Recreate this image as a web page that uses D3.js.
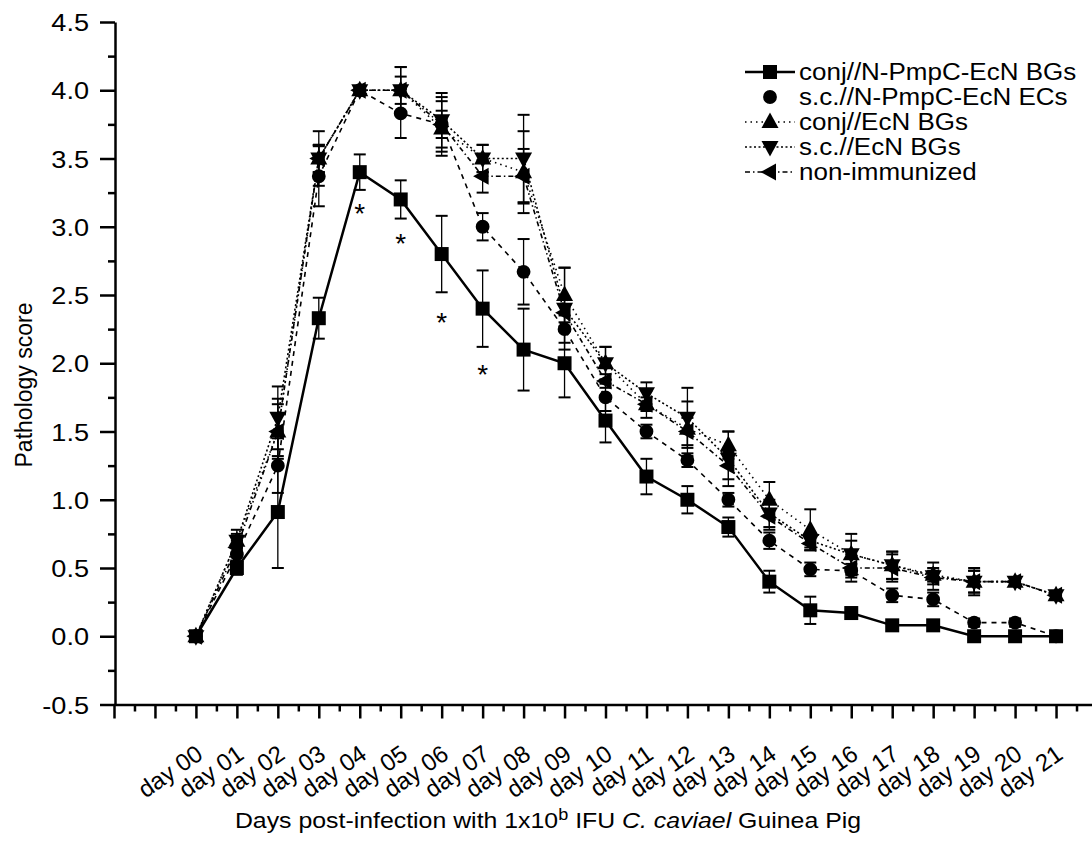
<!DOCTYPE html>
<html>
<head>
<meta charset="utf-8">
<script src="https://cdn.jsdelivr.net/npm/d3@7"></script>
<style>
  body { margin: 0; background: #fff; }
  svg { display: block; }
</style>
</head>
<body>
<svg id="chart" width="1092" height="847"></svg>
<script>
// days on the x axis
const days = d3.range(0, 22)
const dayLabels = days.map((d) => 'day ' + String(d).padStart(2, '0'))

// mean pathology score per group
const conjPmpcBGs = [0, 0.5, 0.91, 2.33, 3.4, 3.2, 2.8, 2.4, 2.1, 2.0, 1.58, 1.17, 1.0, 0.8, 0.4, 0.19, 0.17, 0.08, 0.08, 0, 0, 0]
const scPmpcECs = [0, 0.6, 1.25, 3.37, 4.0, 3.83, 3.75, 3.0, 2.67, 2.25, 1.75, 1.5, 1.29, 1.0, 0.7, 0.49, 0.48, 0.3, 0.27, 0.1, 0.1, 0]
const conjEcnBGs = [0, 0.7, 1.5, 3.5, 4.0, 4.0, 3.72, 3.5, 3.4, 2.5, 2.0, 1.7, 1.52, 1.4, 1.0, 0.78, 0.6, 0.52, 0.45, 0.4, 0.4, 0.3]
const scEcnBGs = [0, 0.7, 1.6, 3.5, 4.0, 4.0, 3.78, 3.5, 3.5, 2.4, 2.0, 1.78, 1.6, 1.3, 0.9, 0.7, 0.6, 0.52, 0.44, 0.4, 0.4, 0.3]
const nonImmunized = [0, 0.65, 1.5, 3.5, 4.0, 4.0, 3.75, 3.37, 3.37, 2.37, 1.87, 1.7, 1.5, 1.25, 0.88, 0.68, 0.5, 0.5, 0.43, 0.4, 0.4, 0.3]

// error (+/-) per point
const conjPmpcBGsErr = [0, 0.05, 0.41, 0.15, 0.13, 0.14, 0.28, 0.28, 0.3, 0.25, 0.16, 0.13, 0.1, 0.07, 0.08, 0.1, 0.04, 0.02, 0.02, 0, 0, 0]
const scPmpcECsErr = [0, 0.05, 0.2, 0.22, 0, 0.18, 0.1, 0.1, 0.24, 0.1, 0.1, 0.05, 0.05, 0.05, 0.06, 0.05, 0.05, 0.05, 0.05, 0.03, 0.03, 0]
const conjEcnBGsErr = [0, 0.05, 0.2, 0.1, 0, 0.17, 0.2, 0.1, 0.3, 0.2, 0.12, 0.1, 0.2, 0.1, 0.13, 0.15, 0.1, 0.1, 0.05, 0.08, 0, 0]
const scEcnBGsErr = [0, 0.08, 0.23, 0.1, 0, 0.17, 0.2, 0.1, 0.32, 0.3, 0.12, 0.08, 0.22, 0.2, 0.1, 0.05, 0.15, 0.1, 0.1, 0.08, 0, 0]
const nonImmunizedErr = [0, 0.05, 0.24, 0.2, 0, 0.1, 0.2, 0.12, 0.2, 0.1, 0.05, 0.05, 0.1, 0.1, 0.1, 0.05, 0.1, 0.1, 0.05, 0.1, 0, 0]

const seriesNames = ['conj//N-PmpC-EcN BGs', 's.c.//N-PmpC-EcN ECs', 'conj//EcN BGs', 's.c.//EcN BGs', 'non-immunized']

// significance marks (day, score position)
const sigDays = [4, 5, 6, 7]
const sigPos = [3.14, 2.92, 2.34, 1.96]

const yTicks = d3.range(-0.5, 4.51, 0.5)

const series = [
  { name: seriesNames[0], values: conjPmpcBGs, err: conjPmpcBGsErr, shape: 'square', dash: null, lw: 2.5, legendLine: true },
  { name: seriesNames[1], values: scPmpcECs, err: scPmpcECsErr, shape: 'circle', dash: '5,5', lw: 1.6, legendLine: false },
  { name: seriesNames[2], values: conjEcnBGs, err: conjEcnBGsErr, shape: 'up', dash: '1.5,4', lw: 1.6, legendLine: true },
  { name: seriesNames[3], values: scEcnBGs, err: scEcnBGsErr, shape: 'down', dash: '2,2.5', lw: 1.6, legendLine: true },
  { name: seriesNames[4], values: nonImmunized, err: nonImmunizedErr, shape: 'left', dash: '5,3,1.5,3', lw: 1.6, legendLine: true },
]

const width = 1092
const height = 847
const fontFamily = 'Arial, "Liberation Sans", sans-serif'
const stretch = 1.13 // glyphs in the figure are a bit wider than normal

const x = d3.scaleLinear().domain([-2, 22]).range([114, 1097])
const y = d3.scaleLinear().domain([-0.5, 4.5]).range([704.5, 22])

function marker(shape) {
  switch (shape) {
    case 'square':
      return 'M-7,-7H7V7H-7Z'
    case 'circle':
      return d3.symbol(d3.symbolCircle, 150)()
    case 'up':
      return 'M0,-9.5L8.5,6L-8.5,6Z'
    case 'down':
      return 'M0,9.5L8.5,-6L-8.5,-6Z'
    case 'left':
      return 'M-9.5,0L6,-8.5L6,8.5Z'
  }
}

const svg = d3.select('#chart')

svg.append('rect').attr('width', width).attr('height', height).attr('fill', '#fff')

const g = svg.append('g').attr('id', 'visualization')

// axes
const xAxis = g
  .append('g')
  .attr('transform', `translate(0,${y(-0.5)})`)
  .call(
    d3
      .axisBottom(x)
      .tickValues(d3.range(-2, 23))
      .tickSize(14)
      .tickSizeOuter(0)
      .tickFormat((d) => (d >= 0 && d <= 21 ? dayLabels[d] : ''))
  )

g.append('g')
  .attr('transform', `translate(0,${y(-0.5)})`)
  .call(
    d3
      .axisBottom(x)
      .tickValues(d3.range(-1.5, 22, 1))
      .tickSize(7)
      .tickSizeOuter(0)
      .tickFormat('')
  )
  .call((s) => s.select('.domain').remove())

xAxis
  .selectAll('.tick text')
  .attr('font-family', fontFamily)
  .attr('font-size', 24)
  .attr('fill', '#000')
  .attr('text-anchor', 'end')
  .attr('x', 0)
  .attr('y', 0)
  .attr('dy', 0)
  .attr('transform', 'translate(8,53) rotate(-35)')

const yAxis = g
  .append('g')
  .attr('transform', `translate(${x(-2) + 1},0)`)
  .call(
    d3
      .axisLeft(y)
      .tickValues(yTicks)
      .tickSize(15)
      .tickPadding(11)
      .tickSizeOuter(0)
      .tickFormat((d) => d.toFixed(1))
  )

yAxis
  .selectAll('.tick text')
  .attr('font-family', fontFamily)
  .attr('font-size', 24)
  .attr('fill', '#000')
  .attr('dy', '0.36em')
  .attr('transform', function () {
    const tx = +d3.select(this).attr('x')
    return `translate(${tx},0) scale(${stretch},1)`
  })
  .attr('x', 0)

g.append('g')
  .attr('transform', `translate(${x(-2) + 1},0)`)
  .call(d3.axisLeft(y).tickValues(d3.range(-0.25, 4.5, 0.5)).tickSize(7).tickSizeOuter(0).tickFormat(''))
  .call((s) => s.select('.domain').remove())

g.selectAll('.domain, .tick line').attr('stroke', '#000').attr('stroke-width', 2.5)

// lines
const line = d3
  .line()
  .x((d, i) => x(days[i]))
  .y((d) => y(d))

g.append('g')
  .selectAll('path')
  .data(series)
  .join('path')
  .attr('d', (s) => line(s.values))
  .attr('fill', 'none')
  .attr('stroke', '#000')
  .attr('stroke-width', (s) => s.lw)
  .attr('stroke-dasharray', (s) => s.dash)

// error bars
const bars = series.flatMap((s) =>
  s.values.map((v, i) => ({ day: days[i], v, e: s.err[i] })).filter((d) => d.e > 0)
)

const errG = g.append('g').attr('stroke', '#000')

errG
  .selectAll('line.v')
  .data(bars)
  .join('line')
  .attr('class', 'v')
  .attr('x1', (d) => x(d.day))
  .attr('x2', (d) => x(d.day))
  .attr('y1', (d) => y(d.v - d.e))
  .attr('y2', (d) => y(d.v + d.e))
  .attr('stroke-width', 1.3)

errG
  .selectAll('line.cap')
  .data(bars.flatMap((d) => [{ day: d.day, v: d.v + d.e }, { day: d.day, v: d.v - d.e }]))
  .join('line')
  .attr('class', 'cap')
  .attr('x1', (d) => x(d.day) - 6)
  .attr('x2', (d) => x(d.day) + 6)
  .attr('y1', (d) => y(d.v))
  .attr('y2', (d) => y(d.v))
  .attr('stroke-width', 2)

// markers
g.append('g')
  .selectAll('g')
  .data(series)
  .join('g')
  .selectAll('path')
  .data((s) => s.values.map((v, i) => ({ v, day: days[i], shape: s.shape })))
  .join('path')
  .attr('transform', (d) => `translate(${x(d.day)},${y(d.v)})`)
  .attr('d', (d) => marker(d.shape))
  .attr('fill', '#000')

// significance marks
g.append('g')
  .selectAll('text')
  .data(sigDays)
  .join('text')
  .attr('x', (d) => x(d))
  .attr('y', (d, i) => y(sigPos[i]) + 15)
  .attr('text-anchor', 'middle')
  .attr('font-family', fontFamily)
  .attr('font-size', 28)
  .text('*')

// legend
const legend = g
  .append('g')
  .selectAll('g')
  .data(series)
  .join('g')
  .attr('transform', (d, i) => `translate(770,${72 + i * 25})`)

legend
  .filter((d) => d.legendLine)
  .append('line')
  .attr('x1', -25)
  .attr('x2', 25)
  .attr('stroke', '#000')
  .attr('stroke-width', (d) => d.lw)
  .attr('stroke-dasharray', (d) => d.dash)

legend
  .append('path')
  .attr('d', (d) => marker(d.shape))
  .attr('fill', '#000')

legend
  .append('text')
  .attr('transform', `translate(29,8) scale(${stretch},1)`)
  .attr('font-family', fontFamily)
  .attr('font-size', 23)
  .text((d) => d.name)

// axis titles
g.append('text')
  .attr('transform', 'translate(32,385) rotate(-90)')
  .attr('text-anchor', 'middle')
  .attr('font-family', fontFamily)
  .attr('font-size', 23)
  .text('Pathology score')

const xTitle = g
  .append('text')
  .attr('transform', `translate(548,828) scale(${stretch},1)`)
  .attr('text-anchor', 'middle')
  .attr('font-family', fontFamily)
  .attr('font-size', 22)

xTitle.append('tspan').text('Days post-infection with 1x10')
xTitle.append('tspan').attr('dy', -8).attr('font-size', 16).text('b')
xTitle.append('tspan').attr('dy', 8).text(' IFU ')
xTitle.append('tspan').attr('font-style', 'italic').text('C. caviael')
xTitle.append('tspan').text(' Guinea Pig')
</script>
</body>
</html>
